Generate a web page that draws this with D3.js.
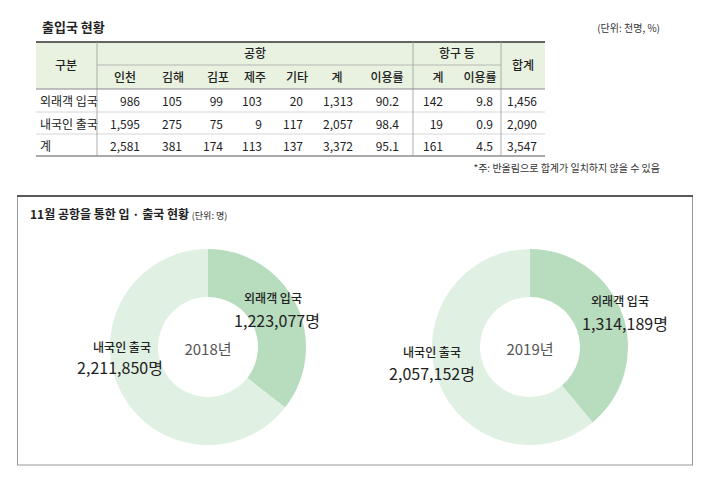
<!DOCTYPE html><html><head><meta charset="utf-8">
<script src="https://cdn.jsdelivr.net/npm/d3@7"></script>
<style>body{margin:0;background:#fff}text{font-family:"Noto Sans CJK KR","Noto Sans",sans-serif}</style></head><body>
<svg id="c" width="704" height="479"></svg>
<script>
const colHeads=["인천","김해","김포","제주","기타","계","이용률","계","이용률","합계"];
const rowLabels=["외래객 입국","내국인 출국","계"];
const tableRows=[
 ["986","105","99","103","20","1,313","90.2","142","9.8","1,456"],
 ["1,595","275","75","9","117","2,057","98.4","19","0.9","2,090"],
 ["2,581","381","174","113","137","3,372","95.1","161","4.5","3,547"]];
const years=["2018년","2019년"];
const foreign=[1223077,1314189];
const domestic=[2211850,2057152];
const sliceNames=["외래객 입국","내국인 출국"];

const svg=d3.select("#c");
svg.append("text").attr("x",42).attr("y",32).attr("font-size",13).attr("font-weight",700).attr("fill","#222").text("출입국 현황");
svg.append("text").attr("x",660).attr("y",32).attr("text-anchor","end").attr("font-size",10).attr("fill","#333").text("(단위: 천명, %)");
svg.append("rect").attr("x",36).attr("y",42).attr("width",509).attr("height",47).attr("fill","#e9f2e1");
const L=(x1,y1,x2,y2,c,w)=>svg.append("line").attr("x1",x1).attr("y1",y1).attr("x2",x2).attr("y2",y2).attr("stroke",c).attr("stroke-width",w);
L(36,42,545,42,"#333",1.5);L(36,89,545,89,"#888",1);L(36,156,545,156,"#555",1);
L(36,112,545,112,"#ccc",0.8);L(36,134,545,134,"#ccc",0.8);
L(97,65,501,65,"#aaa",0.8);
[97,413,501].forEach(x=>L(x,42,x,156,"#999",0.8));
const hx=[125,173,218,255,297,337,387,438,480];
const rx=[140,182,223,262,303,353,399,443,493,537];
const H=(x,y,t)=>svg.append("text").attr("x",x).attr("y",y).attr("text-anchor","middle").attr("font-size",12).attr("font-weight",500).attr("fill","#222").text(t);
H(66,70,"구분");H(255,58,"공항");H(457,58,"항구 등");H(523,70,"합계");
hx.forEach((x,i)=>H(x,82,colHeads[i]));
const ry=[106,129,151];
tableRows.forEach((r,j)=>{
 svg.append("text").attr("x",40).attr("y",ry[j]).attr("font-size",12).attr("fill","#222").text(rowLabels[j]);
 r.forEach((v,i)=>svg.append("text").attr("x",rx[i]).attr("y",ry[j]).attr("text-anchor","end").attr("font-size",12).attr("fill","#222").text(v));
});
svg.append("text").attr("x",660).attr("y",172).attr("text-anchor","end").attr("font-size",10).attr("fill","#333").text("*주: 반올림으로 합계가 일치하지 않을 수 있음");

svg.append("rect").attr("x",17.5).attr("y",196).attr("width",675).attr("height",269).attr("fill","none").attr("stroke","#999");
L(17,196,693,196,"#333",1.5);
const t=svg.append("text").attr("x",30).attr("y",219).attr("font-size",12).attr("font-weight",700).attr("fill","#222").text("11월 공항을 통한 입 · 출국 현황 ");
t.append("tspan").attr("font-size",9).attr("font-weight",400).text("(단위: 명)");

const cx=[208,530],cy=347;
const pie=d3.pie().sort(null).value(d=>d);
const arc=d3.arc().innerRadius(50).outerRadius(98);
const colors=["#b8dcbe","#e0f0e3"];
const fmt=d3.format(",");
const lab=[[[65,-44],[69,-20]],[[-86,5],[-88,27]]];
const lab2=[[[90,-41],[95,-17]],[[-98,10],[-98,33]]];
years.forEach((y,k)=>{
 const g=svg.append("g").attr("transform",`translate(${cx[k]},${cy})`);
 const vals=[foreign[k],domestic[k]];
 g.selectAll("path").data(pie(vals)).join("path").attr("d",arc).attr("fill",(d,i)=>colors[i]);
 g.append("text").attr("y",8).attr("text-anchor","middle").attr("font-size",15).attr("fill","#555").text(y);
 const P=k?lab2:lab;
 vals.forEach((v,i)=>{
  g.append("text").attr("x",P[i][0][0]).attr("y",P[i][0][1]).attr("text-anchor","middle").attr("font-size",12).attr("font-weight",500).attr("fill","#222").text(sliceNames[i]);
  g.append("text").attr("x",P[i][1][0]).attr("y",P[i][1][1]).attr("text-anchor","middle").attr("font-size",16).attr("fill","#222").text(fmt(v)+"명");
 });
});
</script></body></html>
